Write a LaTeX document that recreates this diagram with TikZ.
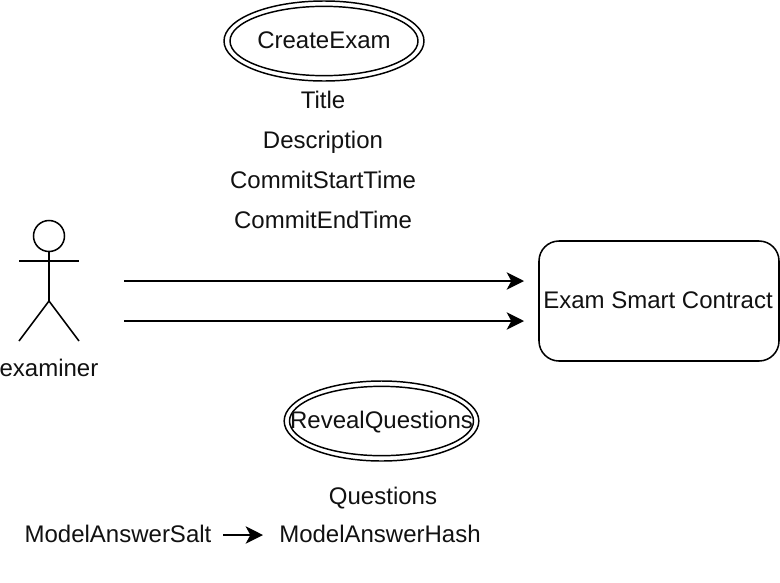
\documentclass[tikz,border=0pt]{standalone}
\usepackage{fontspec}
\setmainfont{Liberation Sans}
\usetikzlibrary{shapes.geometric,arrows.meta}
\definecolor{ink}{HTML}{111111}
\tikzset{
  px/.style={x=0.75pt,y=-0.75pt},
  lbl/.style={text=ink,font=\fontsize{18}{20}\selectfont,inner sep=0pt,anchor=center,text height=16pt,text depth=3.5pt},
  lin/.style={draw=black,line width=1.15pt},
  arr/.style={lin,-{Stealth[length=13pt,width=13pt,inset=3.5pt]}},
  ell/.style={ellipse,draw=black,line width=1.1pt,inner sep=0pt}
}
\begin{document}
\begin{tikzpicture}[px]
\useasboundingbox (0,0) rectangle (780,582);
\node[ell,minimum width=150pt,minimum height=60pt] (ce) at (324,41) {};
\node[ell,minimum width=141pt,minimum height=52pt] (cei) at (324,41) {};
\node[lbl] (cet) at (324,40) {CreateExam};
\node[lbl] (t1) at (323,100) {Title};
\node[lbl] (t2) at (323,140) {Description};
\node[lbl] (t3) at (323,180) {CommitStartTime};
\node[lbl] (t4) at (323,220) {CommitEndTime};
% actor
\node[circle,lin,minimum size=23.25pt,inner sep=0pt] (head) at (49,236) {};
\coordinate (hip) at (49,301);
\coordinate (la) at (19,261);
\coordinate (ra) at (79,261);
\coordinate (ll) at (19,341);
\coordinate (rl) at (79,341);
\draw[lin] (head.south) -- (hip);
\draw[lin] (la) -- (ra);
\draw[lin] (ll) -- (hip) -- (rl);
\node[lbl] (ex) at (49,368) {examiner};
\node[draw=black,line width=1.15pt,rounded corners=15pt,minimum width=180pt,minimum height=90pt,inner sep=0pt] (sc) at (659,301) {};
\node[lbl] (sct) at (658,300) {Exam Smart Contract};
\coordinate (a1) at (124,281);
\coordinate (b1) at (524,281);
\coordinate (a2) at (124,321);
\coordinate (b2) at (524,321);
\draw[arr] (a1) -- (b1);
\draw[arr] (a2) -- (b2);
\node[ell,minimum width=146pt,minimum height=60pt] (re) at (381.5,421) {};
\node[ell,minimum width=138pt,minimum height=52pt] (rei) at (381.5,421) {};
\node[lbl] (ret) at (381.5,420) {RevealQuestions};
\node[lbl] (q) at (383,496) {Questions};
\node[lbl] (mas) at (118,534) {ModelAnswerSalt};
\node[lbl] (mah) at (380,534) {ModelAnswerHash};
\coordinate (c1) at (223,535);
\coordinate (c2) at (263,535);
\draw[arr] (c1) -- (c2);
\end{tikzpicture}
\end{document}
